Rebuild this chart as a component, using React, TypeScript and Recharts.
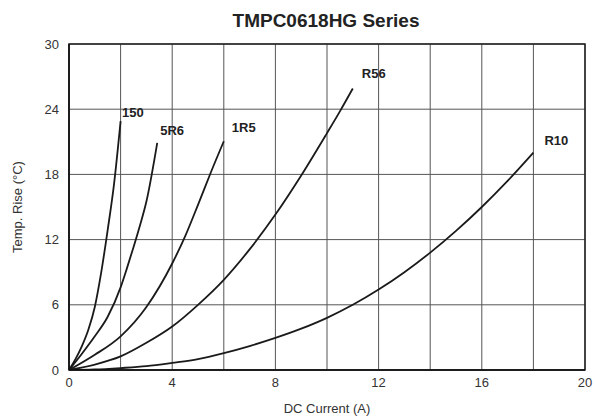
import React from 'react';
import { LineChart, Line, XAxis, YAxis, CartesianGrid, ReferenceArea } from 'recharts';

const title = 'TMPC0618HG Series';
const xLabel = 'DC Current (A)';
const yLabel = 'Temp. Rise (°C)';

const xTicks = [0, 2, 4, 6, 8, 10, 12, 14, 16, 18, 20];
const yTicks = [0, 6, 12, 18, 24, 30];

const s150X = [0, 0.25, 0.5, 0.75, 1.0, 1.25, 1.5, 1.75, 2.0];
const s150Y = [0, 1.0, 2.2, 3.7, 5.8, 9.0, 12.9, 17.2, 22.9];

const s5R6X = [0, 0.5, 1, 1.5, 2, 2.25, 2.5, 2.75, 3.0, 3.42];
const s5R6Y = [0, 1.5, 3.1, 4.9, 7.6, 9.4, 11.3, 13.3, 15.5, 20.9];

const s1R5X = [0, 1, 2, 3, 4, 4.5, 5, 5.5, 6];
const s1R5Y = [0, 1.4, 3.1, 5.8, 9.8, 12.3, 15.2, 18.2, 21.05];

const sR56X = [0, 1, 2, 3, 4, 5, 6, 7, 8, 9, 10, 10.5, 11];
const sR56Y = [0, 0.5, 1.25, 2.5, 4.0, 6.0, 8.3, 11.1, 14.3, 17.9, 21.8, 23.8, 25.9];

const sR10X = [0, 1, 2, 3, 4, 5, 6, 7, 8, 9, 10, 11, 12, 13, 14, 15, 16, 17, 18];
const sR10Y = [0, 0.05, 0.18, 0.35, 0.65, 1.0, 1.55, 2.2, 2.95, 3.8, 4.8, 6.0, 7.4, 9.0, 10.8, 12.8, 15.0, 17.4, 20.0];

const build = (xs: number[], ys: number[]) => xs.map((x, i) => ({ x, y: ys[i] }));

const series = [
  { name: '150', data: build(s150X, s150Y), dx: 1.5, dy: -4.5 },
  { name: '5R6', data: build(s5R6X, s5R6Y), dx: 3, dy: -8 },
  { name: '1R5', data: build(s1R5X, s1R5Y), dx: 8, dy: -9 },
  { name: 'R56', data: build(sR56X, sR56Y), dx: 9, dy: -11 },
  { name: 'R10', data: build(sR10X, sR10Y), dx: 11, dy: -8 },
];

const W = 595;
const H = 416;
const FONT = 'Arial, "Liberation Sans", sans-serif';

export default function App() {
  return (
    <div style={{ position: 'absolute', left: 0, top: 0, width: W, height: H, background: '#fff' }}>
      <LineChart width={W} height={H} margin={{ top: 44, right: 10, bottom: 16, left: 29 }}>
        <CartesianGrid stroke="#555" strokeWidth={1} />
        <XAxis
          type="number"
          dataKey="x"
          domain={[0, 20]}
          ticks={xTicks}
          interval={0}
          tickFormatter={(v: number) => (v % 4 === 0 ? String(v) : '')}
          tickLine={false}
          axisLine={{ stroke: '#111', strokeWidth: 1.5 }}
          tick={{ fill: '#333', fontSize: 13, fontFamily: FONT }}
          tickMargin={2}
          height={30}
          allowDataOverflow
        />
        <YAxis
          type="number"
          dataKey="y"
          domain={[0, 30]}
          ticks={yTicks}
          interval={0}
          tickLine={false}
          axisLine={{ stroke: '#111', strokeWidth: 1.5 }}
          tick={{ fill: '#333', fontSize: 13, fontFamily: FONT }}
          tickMargin={4}
          width={40}
          allowDataOverflow
        />
        <ReferenceArea x1={0} x2={20} y1={0} y2={30} fill="none" stroke="#222" strokeWidth={1.5} />
        {series.map((s) => (
          <Line
            key={s.name}
            data={s.data}
            dataKey="y"
            type="monotone"
            stroke="#1a1a1a"
            strokeWidth={1.8}
            dot={false}
            activeDot={false}
            isAnimationActive={false}
            label={(p: any) => {
              if (p.index !== s.data.length - 1) return <g key={`l-${s.name}-${p.index}`} />;
              const px = p.x ?? p.viewBox?.x;
              const py = p.y ?? p.viewBox?.y;
              return (
                <text
                  key={`l-${s.name}`}
                  x={px + s.dx}
                  y={py + s.dy}
                  fontSize={13}
                  fontWeight="bold"
                  fontFamily={FONT}
                  fill="#222"
                >
                  {s.name}
                </text>
              );
            }}
          />
        ))}
      </LineChart>
      <svg width={W} height={H} style={{ position: 'absolute', left: 0, top: 0, pointerEvents: 'none' }}>
        <text x={326} y={27} textAnchor="middle" fontSize={19} fontWeight="bold" fontFamily={FONT} fill="#222">
          {title}
        </text>
        <text x={327} y={413} textAnchor="middle" fontSize={13} fontFamily={FONT} fill="#333">
          {xLabel}
        </text>
        <text
          x={17.5}
          y={207}
          textAnchor="middle"
          dominantBaseline="central"
          fontSize={13}
          fontFamily={FONT}
          fill="#333"
          transform="rotate(-90 17.5 207)"
        >
          {yLabel}
        </text>
      </svg>
    </div>
  );
}
